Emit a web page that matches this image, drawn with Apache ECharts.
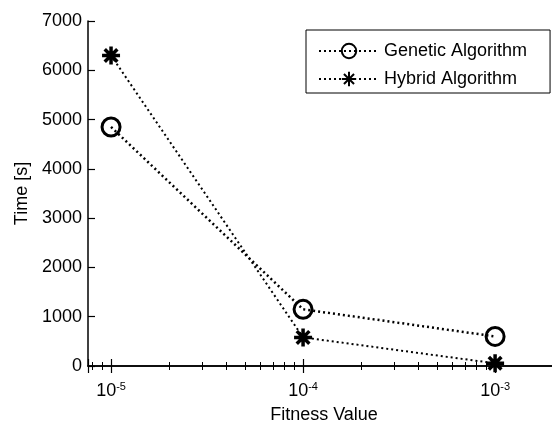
<!DOCTYPE html>
<html>
<head>
<meta charset="utf-8">
<script src="https://cdn.jsdelivr.net/npm/echarts@6/dist/echarts.min.js"></script>
<style>
  html, body { margin: 0; padding: 0; background: #fff; }
  #chart { width: 552px; height: 424px; }
</style>
</head>
<body>
<div id="chart"></div>
<script>
var fitness = [1e-5, 1e-4, 1e-3];
var geneticTime = [4850, 1150, 600];
var hybridTime = [6300, 580, 55];
var seriesNames = ["Genetic Algorithm", "Hybrid Algorithm"];

var FONT = "Liberation Sans, Arial, sans-serif";
var ASTERISK = "path://M0,-10L0,10M-10,0L10,0M-7,-7L7,7M-7,7L7,-7";

function pairs(xs, ys) {
  return xs.map(function (x, i) { return [x, ys[i]]; });
}

var chart = echarts.init(document.getElementById("chart"), null, { renderer: "canvas" });

var xRange = { min: Math.pow(10, -5.12), max: Math.pow(10, -2.662) };

function logLabel(v) {
  var e = Math.round(Math.log10(v));
  return "10{sup|" + e + "}";
}

var tickStyle = { inside: true, length: 7, lineStyle: { color: "#000", width: 1.2 } };
var minorStyle = { show: true, splitNumber: 9, length: 4, lineStyle: { color: "#000", width: 1 } };

var option = {
  backgroundColor: "#fff",
  animation: false,
  grid: { left: 88, top: 21, width: 472, height: 345, outerBoundsMode: "none", containLabel: false },
  legend: {
    orient: "vertical",
    left: 306,
    top: 30,
    padding: [12, 23, 5, 12],
    itemGap: 10,
    itemWidth: 60,
    itemHeight: 18,
    borderColor: "#000",
    borderWidth: 1,
    backgroundColor: "#fff",
    textStyle: { color: "#000", fontSize: 18, fontFamily: FONT },
    data: seriesNames
  },
  xAxis: [
    {
      type: "log",
      logBase: 10,
      min: xRange.min,
      max: xRange.max,
      name: "Fitness Value",
      nameLocation: "middle",
      nameGap: 40,
      nameTextStyle: { color: "#000", fontSize: 18, fontFamily: FONT },
      axisLine: { lineStyle: { color: "#000", width: 1.5 } },
      axisTick: tickStyle,
      minorTick: minorStyle,
      splitLine: { show: false },
      axisLabel: {
        showMinLabel: false,
        showMaxLabel: false,
        margin: 15,
        color: "#000",
        fontSize: 18,
        fontFamily: FONT,
        formatter: logLabel,
        rich: {
          sup: { fontSize: 11, fontFamily: FONT, color: "#000", verticalAlign: "top", padding: [0, 0, 10, 0] }
        }
      }
    },
    {
      type: "log",
      logBase: 10,
      position: "top",
      min: xRange.min,
      max: xRange.max,
      axisLine: { lineStyle: { color: "#000", width: 1.5 } },
      axisTick: tickStyle,
      minorTick: minorStyle,
      splitLine: { show: false },
      axisLabel: { show: false }
    }
  ],
  yAxis: [
    {
      type: "value",
      min: 0,
      max: 7000,
      interval: 1000,
      name: "Time [s]",
      nameLocation: "middle",
      nameGap: 54,
      nameTextStyle: { color: "#000", fontSize: 18, fontFamily: FONT },
      axisLine: { show: true, lineStyle: { color: "#000", width: 1.5 } },
      axisTick: { show: true, inside: true, length: 7, lineStyle: { color: "#000", width: 1.2 } },
      splitLine: { show: false },
      axisLabel: {
        margin: 6,
        color: "#000",
        fontSize: 18,
        fontFamily: FONT,
        formatter: function (v) { return String(v); }
      }
    },
    {
      type: "value",
      position: "right",
      min: 0,
      max: 7000,
      interval: 1000,
      axisLine: { show: true, lineStyle: { color: "#000", width: 1.5 } },
      axisTick: { show: false },
      splitLine: { show: false },
      axisLabel: { show: false }
    }
  ],
  series: [
    {
      name: seriesNames[0],
      type: "line",
      data: pairs(fitness, geneticTime),
      symbol: "circle",
      symbolSize: 18,
      lineStyle: { color: "#000", width: 2.5, type: [2, 3] },
      itemStyle: { color: "rgba(0,0,0,0)", borderColor: "#000", borderWidth: 3 },
      z: 3
    },
    {
      name: seriesNames[1],
      type: "line",
      data: pairs(fitness, hybridTime),
      symbol: ASTERISK,
      symbolSize: 18,
      lineStyle: { color: "#000", width: 2, type: [2, 3] },
      itemStyle: { color: "#000", borderColor: "#000", borderWidth: 3.5 },
      z: 3
    }
  ]
};

chart.setOption(option);
</script>
</body>
</html>
